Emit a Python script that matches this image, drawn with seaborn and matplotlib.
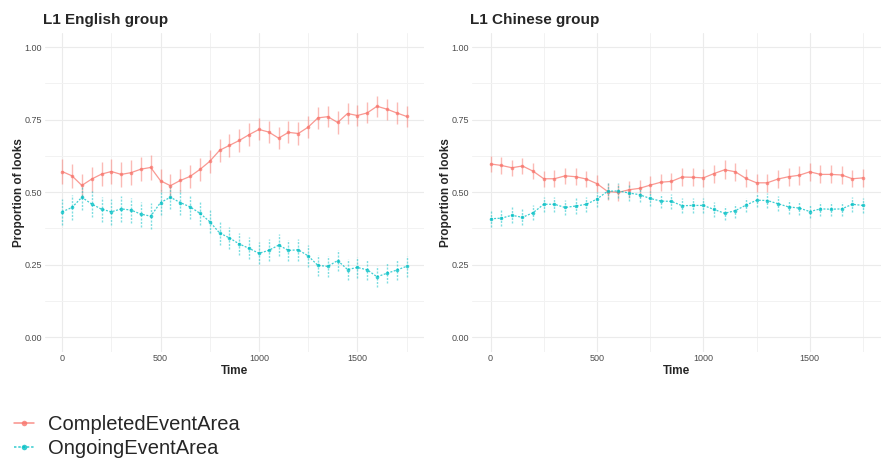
import matplotlib
matplotlib.use("Agg")
import matplotlib.pyplot as plt
import pandas as pd
import seaborn as sns
from matplotlib.lines import Line2D

TIME = [0, 50, 100, 150, 200, 250, 300, 350, 400, 450, 500, 550, 600, 650, 700, 750, 800, 850,
        900, 950, 1000, 1050, 1100, 1150, 1200, 1250, 1300, 1350, 1400, 1450, 1500, 1550, 1600, 1650, 1700, 1750]
AREAS = ["CompletedEventArea", "OngoingEventArea"]
COLORS = {"CompletedEventArea": "#F8766D", "OngoingEventArea": "#00BFC4"}

# L1 English group
EN_COMPLETED = [0.571, 0.556, 0.523, 0.545, 0.562, 0.571, 0.561, 0.567, 0.579, 0.585, 0.539, 0.522,
                0.540, 0.554, 0.578, 0.606, 0.644, 0.661, 0.678, 0.698, 0.716, 0.707, 0.686, 0.706,
                0.702, 0.724, 0.756, 0.760, 0.740, 0.771, 0.764, 0.773, 0.796, 0.786, 0.773, 0.761]
EN_COMPLETED_SE = [0.043, 0.042, 0.041, 0.043, 0.042, 0.043, 0.044, 0.042, 0.041, 0.042, 0.040, 0.040,
                   0.041, 0.040, 0.040, 0.040, 0.039, 0.040, 0.039, 0.039, 0.038, 0.038, 0.039, 0.038,
                   0.038, 0.037, 0.038, 0.037, 0.038, 0.037, 0.037, 0.036, 0.036, 0.036, 0.037, 0.037]
EN_ONGOING = [0.432, 0.447, 0.482, 0.459, 0.441, 0.432, 0.442, 0.438, 0.424, 0.417, 0.464, 0.482,
              0.464, 0.449, 0.427, 0.398, 0.359, 0.342, 0.321, 0.306, 0.289, 0.299, 0.317, 0.299,
              0.301, 0.280, 0.247, 0.244, 0.264, 0.233, 0.240, 0.232, 0.208, 0.220, 0.231, 0.244]
EN_ONGOING_SE = [0.045, 0.044, 0.043, 0.044, 0.043, 0.044, 0.044, 0.043, 0.043, 0.044, 0.042, 0.041,
                 0.042, 0.041, 0.041, 0.040, 0.040, 0.039, 0.039, 0.038, 0.038, 0.038, 0.038, 0.037,
                 0.037, 0.037, 0.036, 0.036, 0.036, 0.036, 0.035, 0.035, 0.036, 0.035, 0.035, 0.036]

# L1 Chinese group
ZH_COMPLETED = [0.597, 0.592, 0.584, 0.590, 0.572, 0.546, 0.546, 0.556, 0.553, 0.545, 0.529, 0.502,
                0.499, 0.508, 0.513, 0.524, 0.534, 0.537, 0.552, 0.551, 0.549, 0.564, 0.577, 0.570,
                0.547, 0.532, 0.532, 0.545, 0.553, 0.558, 0.570, 0.561, 0.561, 0.559, 0.546, 0.549]
ZH_COMPLETED_SE = [0.029, 0.028, 0.028, 0.029, 0.028, 0.028, 0.029, 0.028, 0.029, 0.028, 0.029, 0.029,
                   0.028, 0.029, 0.029, 0.030, 0.030, 0.030, 0.031, 0.031, 0.030, 0.031, 0.032, 0.031,
                   0.031, 0.030, 0.031, 0.031, 0.031, 0.032, 0.031, 0.031, 0.031, 0.030, 0.030, 0.031]
ZH_ONGOING = [0.408, 0.410, 0.420, 0.413, 0.429, 0.458, 0.458, 0.447, 0.452, 0.458, 0.476, 0.503,
              0.504, 0.497, 0.491, 0.478, 0.469, 0.468, 0.453, 0.454, 0.454, 0.440, 0.427, 0.436,
              0.455, 0.472, 0.471, 0.460, 0.449, 0.445, 0.433, 0.442, 0.441, 0.442, 0.458, 0.454]
ZH_ONGOING_SE = [0.028, 0.027, 0.027, 0.027, 0.026, 0.026, 0.026, 0.026, 0.026, 0.026, 0.026, 0.027,
                 0.026, 0.026, 0.025, 0.025, 0.025, 0.025, 0.025, 0.025, 0.025, 0.025, 0.024, 0.024,
                 0.025, 0.025, 0.025, 0.025, 0.024, 0.024, 0.024, 0.024, 0.024, 0.024, 0.025, 0.025]

PANELS = [
    ("L1 English group", EN_COMPLETED, EN_COMPLETED_SE, EN_ONGOING, EN_ONGOING_SE),
    ("L1 Chinese group", ZH_COMPLETED, ZH_COMPLETED_SE, ZH_ONGOING, ZH_ONGOING_SE),
]

sns.set_style("white")
plt.rcParams["font.family"] = ["Liberation Sans", "DejaVu Sans"]

fig = plt.figure(figsize=(8.81, 4.59), dpi=100)
axes = [fig.add_axes([0.051, 0.234, 0.430, 0.695]),
        fig.add_axes([0.5357, 0.234, 0.465, 0.695])]

DASH = (1.6, 1.2)

for ax, (title, comp, comp_se, ong, ong_se) in zip(axes, PANELS):
    df = pd.DataFrame({
        "Time": TIME * 2,
        "prop": comp + ong,
        "se": comp_se + ong_se,
        "area": [AREAS[0]] * len(TIME) + [AREAS[1]] * len(TIME),
    })
    sns.lineplot(data=df, x="Time", y="prop", hue="area", style="area", palette=COLORS,
                 markers={AREAS[0]: "o", AREAS[1]: "o"},
                 dashes={AREAS[0]: "", AREAS[1]: DASH},
                 markersize=2.6, markeredgewidth=0, linewidth=0.9, alpha=0.75,
                 legend=False, ax=ax, zorder=3)
    for area in AREAS:
        sub = df[df["area"] == area]
        eb = ax.errorbar(sub["Time"], sub["prop"], yerr=sub["se"], fmt="none",
                         ecolor=COLORS[area], elinewidth=1.0, alpha=0.5, capsize=0, zorder=2)
        if area == AREAS[1]:
            eb[2][0].set_linestyle((0, (1.5, 1.0)))

    ax.set_xlim(-87.5, 1837.5)
    ax.set_ylim(-0.05, 1.05)
    ax.set_xticks([0, 500, 1000, 1500])
    ax.set_xticks([250, 750, 1250, 1750], minor=True)
    ax.set_yticks([0, 0.25, 0.5, 0.75, 1.0])
    ax.set_yticks([0.125, 0.375, 0.625, 0.875], minor=True)
    ax.set_yticklabels(["0.00", "0.25", "0.50", "0.75", "1.00"])
    ax.grid(which="major", color="#EBEBEB", linewidth=0.8, zorder=0)
    ax.grid(which="minor", color="#F2F2F2", linewidth=0.7, zorder=0)
    ax.set_axisbelow(True)
    for s in ax.spines.values():
        s.set_visible(False)
    ax.tick_params(which="both", length=0, labelsize=6.5, labelcolor="#4D4D4D", pad=2)
    ax.set_xlabel("Time", fontsize=8.5, fontweight="bold", labelpad=1)
    ax.set_ylabel("Proportion of looks", fontsize=8.5, fontweight="bold", labelpad=0)
    ax.set_title(title, loc="left", fontsize=11, fontweight="bold", pad=6, x=-0.005)

handles = [
    Line2D([], [], color=COLORS[AREAS[0]], marker="o", markersize=4, markeredgewidth=0,
           linewidth=1.1, alpha=0.8),
    Line2D([], [], color=COLORS[AREAS[1]], marker="o", markersize=4, markeredgewidth=0,
           linewidth=1.1, linestyle=(0, DASH), alpha=0.8),
]
fig.legend(handles, AREAS, loc="lower left", bbox_to_anchor=(0.0, -0.028), frameon=False,
           fontsize=14.5, handlelength=1.0, handletextpad=0.7, labelspacing=0.22,
           borderaxespad=0.2, borderpad=0.5)

fig.savefig("out.png", dpi=100)
